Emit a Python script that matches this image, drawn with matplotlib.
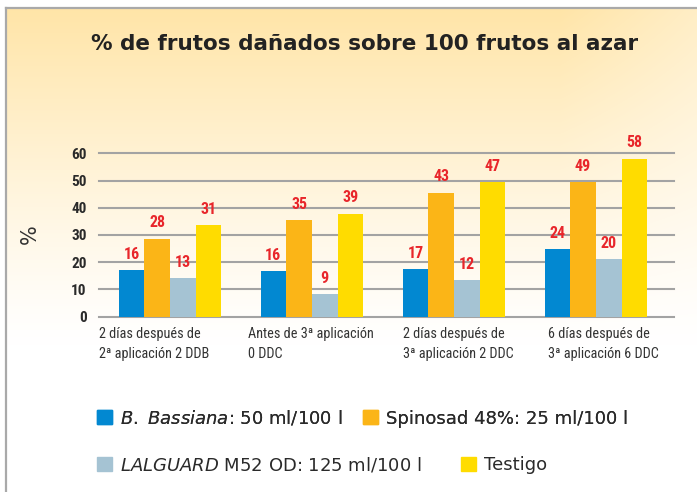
import numpy as np
import matplotlib
matplotlib.use('Agg')
import matplotlib.pyplot as plt
from matplotlib import font_manager
from matplotlib.patches import Patch
from matplotlib.lines import Line2D

groups = ["2 días después de\n2ª aplicación 2 DDB",
          "Antes de 3ª aplicación\n0 DDC",
          "2 días después de\n3ª aplicación 2 DDC",
          "6 días después de\n3ª aplicación 6 DDC"]

# bar heights as drawn, and the numbers printed over them
bassiana_bar = [17.2, 16.8, 17.5, 24.9]
spinosad_bar = [28.6, 35.5, 45.6, 49.3]
lalguard_bar = [14.2, 8.3, 13.5, 21.1]
testigo_bar = [33.7, 37.8, 49.3, 58.0]

bassiana_lbl = [16, 16, 17, 24]
spinosad_lbl = [28, 35, 43, 49]
lalguard_lbl = [13, 9, 12, 20]
testigo_lbl = [31, 39, 47, 58]

yticks = [0, 10, 20, 30, 40, 50, 60]


def pick_narrow():
    fonts = font_manager.fontManager.ttflist
    names = {f.name for f in fonts}
    for n in ['Liberation Sans Narrow', 'DejaVu Sans Condensed', 'Roboto Condensed']:
        if n in names:
            return n, {}
    for f in fonts:
        if f.name == 'DejaVu Sans' and f.stretch == 'condensed':
            return 'DejaVu Sans', {'fontstretch': 'condensed'}
    return 'Roboto', {}


narrow, nkw = pick_narrow()
cond = narrow != 'Roboto'


def main():
    plt.rcParams['mathtext.fontset'] = 'custom'
    plt.rcParams['mathtext.it'] = 'DejaVu Sans:italic'
    plt.rcParams['mathtext.rm'] = 'DejaVu Sans'

    fig = plt.figure(figsize=(6.97, 4.92), dpi=100)

    # background: warm gradient fading to white + grey frame
    bg = fig.add_axes([0, 0, 1, 1], zorder=-10)
    h, w = 492, 697
    yy, xx = np.mgrid[0:h, 0:w]
    wt = np.clip(1 - yy / (0.7 * h), 0, 1) ** 1.2
    wt = wt * np.clip(1 - np.maximum(xx - 560, 0) / 400, 0, 1)
    top = np.array([255, 228, 165]) / 255
    img = np.ones((h, w, 3)) * (1 - wt[..., None]) + top * wt[..., None]
    img[:8, :] = 1
    img[:, :6] = 1
    bg.imshow(img, aspect='auto', extent=(0, 1, 0, 1))
    bg.add_line(Line2D([6 / w, 6 / w], [0, 1 - 8 / h], color='#a9a9a9', lw=1.6))
    bg.add_line(Line2D([6 / w, 1], [1 - 8 / h, 1 - 8 / h], color='#a9a9a9', lw=1.6))
    bg.set_xlim(0, 1)
    bg.set_ylim(0, 1)
    bg.axis('off')

    ax = fig.add_axes([99 / w, 1 - 316.7 / h, 575 / w, (316.7 - 153.3) / h])
    ax.set_facecolor('none')

    x = np.arange(len(groups))
    bw = 0.181
    series = [
        (bassiana_bar, bassiana_lbl, '#0288d1'),
        (spinosad_bar, spinosad_lbl, '#fbb517'),
        (lalguard_bar, lalguard_lbl, '#a5c3d3'),
        (testigo_bar, testigo_lbl, '#ffdc00'),
    ]
    for i, (vals, lbls, col) in enumerate(series):
        pos = x + (i - 1.5) * bw
        ax.bar(pos, vals, width=bw, color=col, zorder=3)
        for px, v, lb in zip(pos, vals, lbls):
            ax.annotate(str(lb), (px, v), xytext=(0, 6), textcoords='offset points',
                        ha='center', va='bottom', color='#e8262b', fontsize=11.5,
                        fontweight='bold', family=narrow, annotation_clip=False, **nkw)

    for t in yticks:
        ax.axhline(t, color='#a3a3a3', lw=1.5, zorder=1, clip_on=False)

    ax.set_xlim(-0.5, 3.55)
    ax.set_ylim(0, 60)
    ax.set_yticks(yticks)
    ax.set_yticklabels([str(t) for t in yticks], family=narrow, fontweight='bold', **nkw)
    ax.set_xticks([])
    ax.tick_params(axis='y', length=0, pad=9, labelsize=11, labelcolor='#2a2a2a')
    for s in ax.spines.values():
        s.set_visible(False)

    # category labels, left-aligned under each group
    xl_shift = [-0.50, -0.45, -0.36, -0.34]
    for xi, g, sh in zip(x, groups, xl_shift):
        ax.text(xi + sh, -3.8, g, ha='left', va='top', fontsize=10.3 if cond else 9.5,
                color='#333333', family=narrow, linespacing=1.5, **nkw)

    fig.text(30 / w, 1 - 234 / h, '%', rotation=90, fontsize=15, color='#333333',
             ha='center', va='center')
    fig.text(365 / w, 1 - 44 / h, '% de frutos dañados sobre 100 frutos al azar',
             fontsize=15.5, color='#222222', ha='center', va='center', fontweight='semibold')

    leg_kw = dict(frameon=False, fontsize=13, handlelength=0.83, handleheight=0.83,
                  handletextpad=0.45, borderaxespad=0, labelcolor='#2a2a2a')
    h1 = [Patch(color='#0288d1'), Patch(color='#fbb517')]
    l1 = [r'$\mathit{B.\ Bassiana}$: 50 ml/100 l', 'Spinosad 48%: 25 ml/100 l']
    leg1 = fig.legend(h1, l1, ncol=2, loc='center left', columnspacing=1.1,
                      bbox_to_anchor=(90 / w, 1 - 418 / h), **leg_kw)
    h2 = [Patch(color='#a5c3d3'), Patch(color='#ffdc00')]
    l2 = [r'$\mathit{LALGUARD}$ M52 OD: 125 ml/100 l', 'Testigo']
    fig.legend(h2, l2, ncol=2, loc='center left', columnspacing=2.15,
               bbox_to_anchor=(90 / w, 1 - 465 / h), **leg_kw)
    fig.add_artist(leg1)

    fig.savefig('out.png', dpi=100)


if __name__ == "__main__":
    main()
